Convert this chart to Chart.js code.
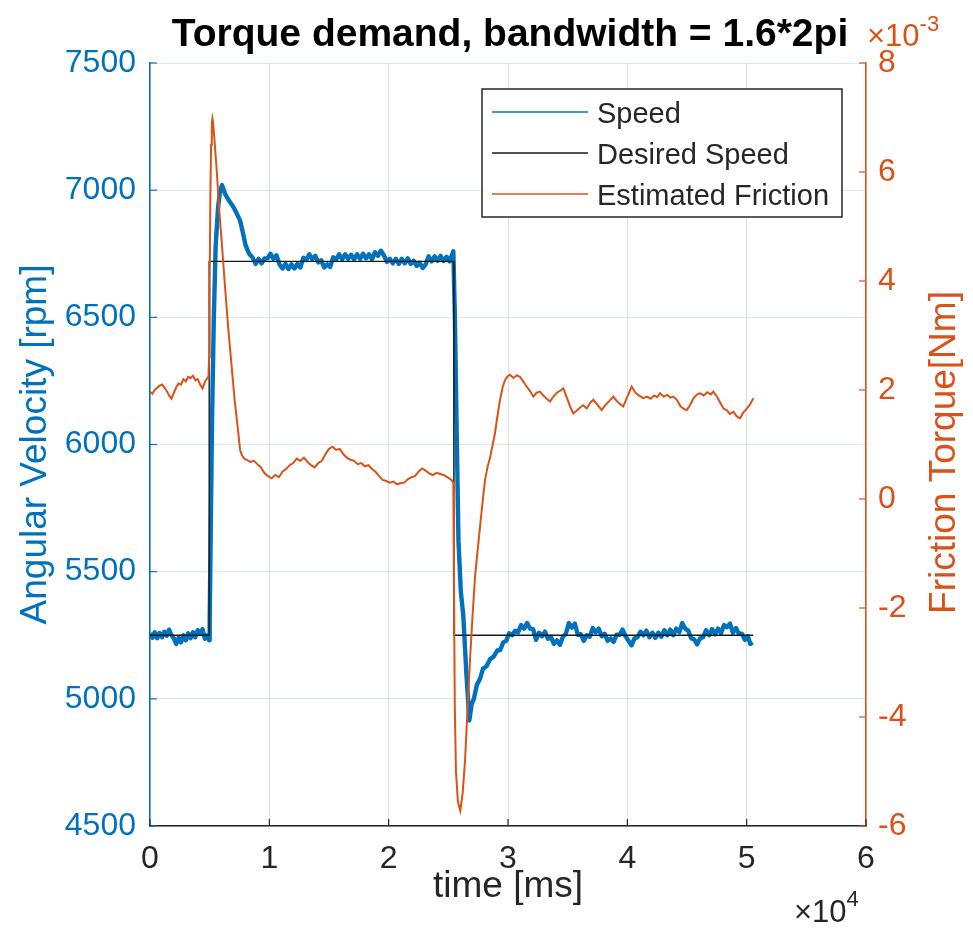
<!DOCTYPE html>
<html>
<head>
<meta charset="utf-8">
<title>Torque demand</title>
<script src="https://cdn.jsdelivr.net/npm/chart.js@4.4.1/dist/chart.umd.min.js"></script>
<style>
    html, body { margin: 0; padding: 0; background: #fff; }
</style>
</head>
<body>
<canvas id="graficaTorque" width="973" height="933"></canvas>
<script>
// Velocidad medida [rpm] contra tiempo [ms]
var tiempoVelocidad = [
    0, 200, 400, 600, 800, 1000, 1200, 1400, 1600, 1800, 2000, 2200, 2400, 2600, 2800, 3000, 3200, 3400, 3600, 3800, 4000, 4200, 4400, 4600, 4800, 4950,
    5000, 5100, 5200, 5350, 5500, 5700, 5850, 6030, 6300, 6600, 6980, 7300, 7550, 7800, 8000, 8300, 8600,
    8850, 9100, 9350, 9600, 9850, 10100, 10350, 10600, 10850, 11100, 11350, 11600, 11850, 12100, 12350, 12600, 12850, 13100, 13350, 13600, 13850, 14100, 14350, 14600, 14850,
    15100, 15350, 15600, 15850, 16100, 16350, 16600, 16850, 17100, 17350, 17600, 17850, 18100, 18350, 18600, 18850, 19100, 19350, 19600, 19850,
    20100, 20350, 20600, 20850, 21100, 21350, 21600, 21850, 22100, 22350, 22600, 22850, 23100, 23350, 23600, 23850, 24100, 24350, 24600, 24850, 25100, 25300, 25420,
    25550, 25700, 25850, 26050, 26250, 26500, 26760, 26950, 27150, 27400, 27650, 27900, 28200, 28500, 28800, 29100, 29350, 29600, 29850,
    30100, 30350, 30600, 30850, 31100, 31350, 31600, 31850, 32100, 32350, 32600,
    32850, 33100, 33350, 33600, 33850, 34100, 34350, 34600, 34850, 35100, 35350, 35600, 35850, 36100, 36350, 36600, 36850, 37100, 37350, 37600, 37850,
    38100, 38350, 38600, 38850, 39100, 39350, 39600, 39850, 40100, 40350, 40600, 40850, 41100, 41350, 41600, 41850, 42100, 42350, 42600, 42850,
    43100, 43350, 43600, 43850, 44100, 44350, 44600, 44850, 45100, 45350, 45600, 45850, 46100, 46350, 46600, 46850, 47100, 47350, 47600, 47850,
    48100, 48350, 48600, 48850, 49100, 49350, 49600, 49850, 50100, 50300, 50500
];
var velocidadRpm = [
    5258, 5240, 5262, 5238, 5259, 5242, 5264, 5248, 5272, 5250, 5238, 5216, 5240, 5222, 5250, 5230, 5258, 5238, 5262, 5242, 5270, 5256, 5274, 5236, 5250, 5230,
    5300, 5700, 6100, 6500, 6780, 6930, 6990, 7020, 6985, 6960, 6935, 6905, 6880, 6830, 6785, 6750, 6735,
    6710, 6730, 6712, 6732, 6732, 6750, 6730, 6744, 6708, 6692, 6710, 6690, 6708, 6692, 6710, 6696, 6734, 6726, 6748, 6728, 6742, 6716, 6724, 6696, 6708,
    6698, 6736, 6728, 6748, 6728, 6748, 6730, 6746, 6728, 6748, 6730, 6750, 6732, 6748, 6728, 6756, 6742, 6762, 6744, 6718,
    6730, 6712, 6730, 6710, 6730, 6712, 6732, 6710, 6722, 6702, 6714, 6694, 6708, 6740, 6720, 6740, 6722, 6742, 6722, 6738, 6720, 6745, 6760,
    6500, 6050, 5620, 5420, 5330, 5110, 4915, 4978, 5002, 5056, 5078, 5118, 5128, 5156, 5166, 5190, 5192, 5222, 5228,
    5258, 5250, 5268, 5262, 5290, 5276, 5298, 5276, 5274, 5232, 5260,
    5246, 5264, 5236, 5244, 5216, 5230, 5212, 5244, 5256, 5298, 5280, 5296, 5252, 5254, 5228, 5250, 5244, 5278, 5262, 5276, 5246,
    5256, 5228, 5238, 5224, 5252, 5252, 5272, 5246, 5228, 5210, 5238, 5242, 5264, 5250, 5268, 5242, 5260, 5240, 5260, 5244,
    5270, 5250, 5272, 5250, 5276, 5262, 5298, 5276, 5268, 5238, 5234, 5214, 5238, 5242, 5270, 5250, 5274, 5254, 5276, 5258,
    5290, 5282, 5296, 5260, 5278, 5256, 5256, 5232, 5246, 5216, 5222
];

// Velocidad deseada (escalon de subida y de bajada)
var tiempoDeseada = [0, 4950, 4960, 25450, 25470, 50550];
var velocidadDeseada = [5250, 5250, 6720, 6720, 5250, 5250];

// Friccion estimada [x10^-3 Nm]
var tiempoFriccion = [
    0, 200, 400, 600, 800, 1000, 1200, 1400, 1600, 1800, 2000, 2200, 2400, 2600, 2800, 3000, 3200, 3400, 3600, 3800, 4000, 4200, 4400, 4600, 4800, 4900,
    4950, 5000, 5060, 5120, 5180, 5230, 5290, 5400, 5600, 5800, 6000, 6285, 6550, 6843, 7100, 7402, 7550, 7700, 7900,
    8100, 8400, 8700, 9000, 9300, 9600, 9900, 10200, 10500, 10800, 11100, 11400, 11700, 12000, 12300, 12600, 12900, 13200, 13500, 13800, 14100, 14400, 14700,
    15000, 15300, 15600, 15900, 16200, 16500, 16800, 17100, 17400, 17700, 18000, 18300, 18600, 18900, 19200, 19500, 19800,
    20100, 20400, 20700, 21000, 21300, 21600, 21900, 22200, 22500, 22800, 23100, 23400, 23700, 24000, 24300, 24600, 24900, 25200, 25417,
    25470, 25540, 25640, 25800, 26000, 26200, 26400, 26600, 26817, 27000, 27236, 27450, 27655, 27850, 28074, 28300, 28492, 28700, 28912, 29100, 29330, 29550, 29749, 29950,
    30168, 30450, 30750, 31006, 31300, 31567, 31850, 32121, 32400, 32682, 32950, 33250, 33520, 33800, 34100, 34400, 34635, 34900, 35200, 35473, 35750,
    36050, 36311, 36600, 36900, 37149, 37450, 37853, 38150, 38500, 38825, 39100, 39400, 39663, 39950, 40200, 40367, 40650, 40950, 41339, 41650, 41950,
    42250, 42500, 42739, 43050, 43350, 43600, 43853, 44150, 44450, 44700, 44976, 45250, 45550, 45850, 46091, 46400, 46700, 47000, 47205, 47500, 47800,
    48050, 48328, 48600, 48900, 49150, 49443, 49700, 50004, 50250, 50557
];
var friccionTorque = [
    1.97, 1.93, 2.0, 2.04, 2.08, 2.1, 2.05, 1.98, 1.9, 1.84, 1.95, 2.05, 2.12, 2.1, 2.2, 2.16, 2.24, 2.22, 2.26, 2.18, 2.2, 2.1, 2.03, 2.15, 2.22, 2.25,
    2.6, 4.0, 5.6, 6.5, 6.9, 6.98, 6.9, 6.6, 6.0, 5.3, 4.75, 3.9, 3.15, 2.43, 1.8, 1.21, 0.9, 0.8, 0.74,
    0.72, 0.68, 0.7, 0.64, 0.58, 0.47, 0.42, 0.38, 0.44, 0.4, 0.5, 0.55, 0.62, 0.66, 0.74, 0.7, 0.76, 0.68, 0.62, 0.58, 0.66, 0.7, 0.82,
    0.92, 0.96, 0.9, 0.92, 0.82, 0.76, 0.72, 0.7, 0.64, 0.66, 0.6, 0.62, 0.55, 0.5, 0.42, 0.35, 0.33,
    0.3, 0.32, 0.27, 0.29, 0.3, 0.36, 0.4, 0.42, 0.5, 0.56, 0.52, 0.47, 0.44, 0.48, 0.46, 0.44, 0.4, 0.36, 0.3,
    -1.5, -3.8, -5.0, -5.55, -5.72, -5.4, -4.8, -3.9, -2.95, -2.25, -1.43, -0.95, -0.51, -0.1, 0.35, 0.6, 0.75, 0.98, 1.21, 1.5, 1.82, 2.05, 2.18, 2.25,
    2.28, 2.22, 2.27, 2.24, 2.15, 2.06, 1.98, 1.88, 1.95, 1.97, 1.9, 1.84, 1.79, 1.88, 1.95, 1.99, 2.03, 1.88, 1.7, 1.57, 1.62,
    1.68, 1.72, 1.66, 1.77, 1.82, 1.74, 1.63, 1.72, 1.8, 1.88, 1.8, 1.74, 1.7, 1.85, 1.98, 2.06, 1.96, 1.9, 1.85, 1.88, 1.84,
    1.9, 1.87, 1.94, 1.88, 1.91, 1.86, 1.88, 1.82, 1.7, 1.66, 1.63, 1.72, 1.85, 1.92, 1.94, 1.9, 1.96, 1.92, 1.97, 1.88, 1.76,
    1.66, 1.63, 1.56, 1.6, 1.52, 1.48, 1.58, 1.66, 1.72, 1.85
];

var azul = '#0072BD';
var naranja = '#D95319';
var gris = '#262626';
var fuente = "'Liberation Sans', Arial, Helvetica, sans-serif";

Chart.defaults.font.family = fuente;

function puntos(tiempos, valores) {
    return tiempos.map(function(t, i) {
        return { x: t, y: valores[i] };
    });
}

// Titulo, titulo del eje derecho, multiplicadores, leyenda y marcas hacia dentro
var decoracion = {
    id: 'decoracion',
    afterDraw: function(chart) {
        var ctx = chart.ctx;
        var area = chart.chartArea;
        ctx.save();

        // marcas de los ejes hacia dentro
        var largo = 7;
        ctx.lineWidth = 1.2;
        ctx.strokeStyle = azul;
        chart.scales.y.ticks.forEach(function(t) {
            var py = chart.scales.y.getPixelForValue(t.value);
            ctx.beginPath(); ctx.moveTo(area.left, py); ctx.lineTo(area.left + largo, py); ctx.stroke();
        });
        ctx.strokeStyle = naranja;
        chart.scales.y1.ticks.forEach(function(t) {
            var py = chart.scales.y1.getPixelForValue(t.value);
            ctx.beginPath(); ctx.moveTo(area.right, py); ctx.lineTo(area.right - largo, py); ctx.stroke();
        });
        ctx.strokeStyle = gris;
        chart.scales.x.ticks.forEach(function(t) {
            var px = chart.scales.x.getPixelForValue(t.value);
            ctx.beginPath(); ctx.moveTo(px, area.bottom); ctx.lineTo(px, area.bottom - largo); ctx.stroke();
        });

        // titulo
        ctx.fillStyle = '#000';
        ctx.font = 'bold 39px ' + fuente;
        ctx.textAlign = 'center';
        ctx.textBaseline = 'middle';
        ctx.fillText('Torque demand, bandwidth = 1.6*2pi', (area.left + area.right) / 2 + 2, 35);

        // titulo del eje derecho (leido de abajo hacia arriba)
        ctx.save();
        ctx.translate(945, (area.top + area.bottom) / 2 + 8);
        ctx.rotate(-Math.PI / 2);
        ctx.fillStyle = naranja;
        ctx.font = '37px ' + fuente;
        ctx.fillText('Friction Torque[Nm]', 0, 0);
        ctx.restore();

        // multiplicador del eje derecho
        ctx.textAlign = 'left';
        ctx.textBaseline = 'alphabetic';
        ctx.fillStyle = naranja;
        ctx.font = '31px ' + fuente;
        ctx.fillText('\u00d710', area.right + 1, 46);
        var w = ctx.measureText('\u00d710').width;
        ctx.font = '22px ' + fuente;
        ctx.fillText('-3', area.right + 1 + w, 31);

        // multiplicador del eje x
        ctx.fillStyle = gris;
        ctx.font = '31px ' + fuente;
        ctx.fillText('\u00d710', area.right - 72, 922);
        w = ctx.measureText('\u00d710').width;
        ctx.font = '22px ' + fuente;
        ctx.fillText('4', area.right - 72 + w, 906);

        // leyenda
        var cajaX = area.right - 384, cajaY = area.top + 26, cajaW = 360, cajaH = 128;
        ctx.fillStyle = '#fff';
        ctx.fillRect(cajaX, cajaY, cajaW, cajaH);
        ctx.strokeStyle = gris;
        ctx.lineWidth = 1.5;
        ctx.strokeRect(cajaX, cajaY, cajaW, cajaH);
        var orden = [0, 1, 2];
        ctx.font = '29px ' + fuente;
        ctx.textBaseline = 'middle';
        orden.forEach(function(idx, k) {
            var ds = chart.data.datasets[idx];
            var ly = cajaY + 23 + k * 41;
            ctx.strokeStyle = ds.borderColor;
            ctx.lineWidth = 1.6;
            ctx.beginPath(); ctx.moveTo(cajaX + 10, ly); ctx.lineTo(cajaX + 106, ly); ctx.stroke();
            ctx.fillStyle = gris;
            ctx.fillText(ds.label, cajaX + 115, ly + 3);
        });
        ctx.restore();
    }
};

var configTorque = {
    type: 'line',
    data: {
        datasets: [{
            label: 'Speed',
            data: puntos(tiempoVelocidad, velocidadRpm),
            borderColor: azul,
            borderWidth: 4.4,
            borderJoinStyle: 'round',
            pointRadius: 0,
            yAxisID: 'y',
            order: 2
        }, {
            label: 'Desired Speed',
            data: puntos(tiempoDeseada, velocidadDeseada),
            borderColor: '#1a1a1a',
            borderWidth: 1.4,
            pointRadius: 0,
            yAxisID: 'y',
            order: 1
        }, {
            label: 'Estimated Friction',
            data: puntos(tiempoFriccion, friccionTorque),
            borderColor: naranja,
            borderWidth: 2,
            pointRadius: 0,
            yAxisID: 'y1',
            order: 0
        }]
    },
    options: {
        responsive: false,
        animation: false,
        layout: {
            padding: { top: 63, left: 0, right: 0, bottom: 0 }
        },
        elements: { line: { tension: 0 } },
        plugins: {
            legend: { display: false },
            tooltip: { enabled: false },
            title: { display: false }
        },
        scales: {
            x: {
                type: 'linear',
                min: 0,
                max: 60000,
                afterFit: function(scale) { scale.height = 107; },
                ticks: {
                    stepSize: 10000,
                    color: gris,
                    font: { size: 32 },
                    padding: 14,
                    maxRotation: 0,
                    callback: function(v) { return String(v / 10000); }
                },
                grid: { color: 'rgba(38,38,38,0.15)', drawTicks: false },
                border: { color: gris, width: 1.5 },
                title: {
                    display: true,
                    text: 'time [ms]',
                    color: gris,
                    font: { size: 37 },
                    padding: { top: 0, bottom: 24 }
                }
            },
            y: {
                position: 'left',
                min: 4500,
                max: 7500,
                afterFit: function(scale) { scale.width = 150; },
                ticks: {
                    stepSize: 500,
                    color: azul,
                    font: { size: 32 },
                    padding: 14,
                    callback: function(v) { return String(v); }
                },
                grid: { color: 'rgba(0,114,189,0.15)', drawTicks: false },
                border: { color: azul, width: 1.5 },
                title: {
                    display: true,
                    text: 'Angular Velocity [rpm]',
                    color: azul,
                    font: { size: 37 },
                    padding: { top: 14, bottom: 0 }
                }
            },
            y1: {
                position: 'right',
                min: -6,
                max: 8,
                afterFit: function(scale) { scale.width = 107; },
                ticks: {
                    stepSize: 2,
                    color: naranja,
                    font: { size: 32 },
                    padding: 12,
                    callback: function(v) { return String(v); }
                },
                grid: { drawOnChartArea: false, drawTicks: false },
                border: { color: naranja, width: 1.5 },
                title: { display: false }
            }
        }
    },
    plugins: [decoracion]
};

window.onload = function() {
    var ctx = document.getElementById('graficaTorque').getContext('2d');
    window.myLine = new Chart(ctx, configTorque);
};
</script>
</body>
</html>
